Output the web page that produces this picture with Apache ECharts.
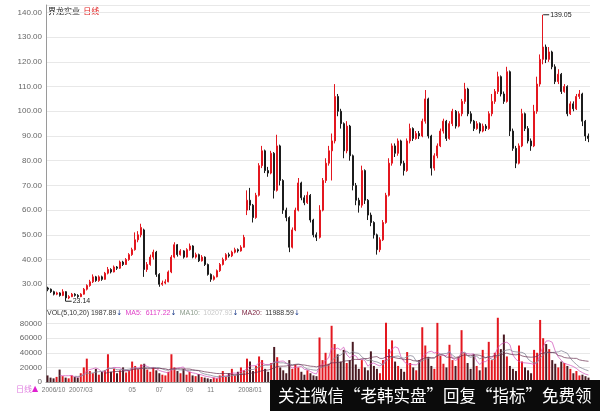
<!DOCTYPE html>
<html><head><meta charset="utf-8">
<script src="https://cdn.jsdelivr.net/npm/echarts@6/dist/echarts.min.js"></script>
<style>html,body{margin:0;padding:0;background:#fff}#c{width:600px;height:411px}</style>
</head><body><div id="c"></div>
<script>
const priceOpen = [
28.5,28,27,26,26.5,25.5,27,24.5,25,26,
25.5,25,26,28,29.5,31,33,31.5,33,32,
34.5,36,35,37,36.5,39,38,40,42,44,
48,50,52,36,38,41,43,34,30,30.5,
31,35,41,46,42,43.5,41,44,45.5,41,
42,39.5,41,38,34,32,33,35.5,38,40,
42,41.5,43,44,43.5,45,60,64,62,57,
66,78,84,76,75,83,68,86,72,60,
57,45,52,60,71,65,63,66,56,50,
49,60,72,79,84,88,106,100,95,84,
94,82,70,64,62,76,64,58,55,50,
44,48,55,66,79,86,83,88,79,76,
88,93,89,91,90,96,105,90,77,82,
86,92,96,89,95,100,94,99,104,109,
99,96,93,95,92,94,93,99,104,108,
114,107,104,116,92,85,79,86,99,93,
88,86,100,111,121,126,121,124,118,112,
115,108,110,99,103,101,106,107,96,90];
const priceClose = [
28,27,26,26.5,25.5,27,24.5,25,26,25.5,
25,26,28,29.5,31,33,31.5,33,32,34.5,
36,35,37,36.5,39,38,40,42,44,48,
50,53,36,38,41,43,34,30,30.5,31,
35,41,46,42,43.5,41,44,45.5,41,42,
39.5,41,38,34,32,33,35.5,38,40,42,
41.5,43,44,43.5,45,49,64,62,57,66,
78,84,76,75,83,68,86,72,60,57,
45,52,60,71,65,63,66,56,50,49,
60,72,79,84,88,106,100,95,84,94,
82,70,64,62,76,64,58,55,50,44,
48,55,66,79,86,83,88,79,76,88,
93,89,91,90,96,105,90,77,82,86,
92,96,89,95,100,94,99,104,109,99,
96,93,95,92,94,93,99,104,108,114,
107,104,116,92,85,79,86,99,93,88,
86,100,111,121,126,121,124,118,112,115,
108,110,99,103,101,106,107,96,90,89];
const priceLow = [
27.2,26.5,25.5,25.6,25,25.2,23.14,24,24.8,25,
24.5,24.8,25.8,27.5,29,30.5,31,31,31.4,31.8,
34,34.4,34.8,35.8,36.2,37.4,37.8,39.5,41.5,43.6,
47,49,33,35,37.5,40,33,29,29.4,30,
30.8,34.5,40.5,41.2,41.6,40.4,40.8,43.6,40.5,40.4,
39,39.2,37.4,33.5,31,31.5,32.8,35,37.6,39.5,
40.8,41,42.5,42.8,43.2,44.8,58,60,55,56.5,
65.5,77,75,73.5,74.5,64.7,67.5,70,58.5,55.5,
43,44.5,51.5,59.5,64,62,62.5,55,49,47.5,
48.5,59.5,71,78,72,87,98,93,81,83,
80,68,62,59,61,62.5,56,53.5,48.5,42,
43,47.5,54.5,65.5,78,81.5,82,78,74,75.5,
87,88,88.5,88.8,89.5,95,89,74,76,81,
85.5,91,88,88.5,94,93,93.5,98,103,98,
95,92,92.5,91,91.5,92,92.5,98,103,107,
106,103,103.5,90,84,77,78.5,85.5,92,87,
84,85.5,99,110,119,119.5,120,117,111,111,
107,107.5,98,98.5,100,100.5,105,94,88,87.5];
const priceHigh = [
29,28.3,27.4,27,26.8,28,27.2,25.6,26.5,26.4,
26,26.4,28.5,30,31.8,34,33.4,33.6,33.5,35,
37,36.5,37.6,37.4,39.6,39.5,40.6,42.6,44.8,51,
51.5,54.5,52.5,39,42,44,43.5,34.5,31.5,32,
35.6,41.8,47,46.3,44.2,43.8,44.6,46.5,45.8,42.8,
42.4,41.8,41.3,38.4,34.4,33.6,36,38.6,40.8,42.6,
42.8,43.6,44.8,44.5,45.8,50,68,69,62.5,67,
79,86,84.5,77.5,84,83.5,90.5,86.5,72.5,61,
57.5,53,61,73,71.5,66,67.5,66.5,56.5,51,
62,73,81,86,91,111,107,101,95.5,96,
94.5,82.5,71,65,78,76.5,64.5,59,55.5,50.5,
49,56,67,81,87,87,89,88.5,80,89,
95,93.5,92,92,97,108.6,105.5,90.5,83,87,
93,97,96.5,96,101,100.5,100,105,111.5,109.5,
100,96.5,96,95.5,95,94.8,100,107,109,116,
114.5,108,118,116.5,93,86,87,101,99.5,94,
89,102.6,114,123,139.05,127,126,124.5,119,117,
115.5,111,110.5,104,104,107,108.6,107.5,96.5,91];
const volume = [
9000,6000,5000,7000,17000,8000,6000,5000,9000,7000,6000,12000,20000,
32000,15000,12000,18000,10000,14000,16000,38000,
14000,18000,12000,16000,20000,13000,15000,28000,22000,18000,24000,
25000,17000,14000,20000,16000,12000,10000,9000,14000,
38000,20000,15000,12000,18000,10000,14000,9000,8000,11000,
7000,6000,5000,4000,6000,5000,9000,15000,7000,12000,18000,9000,14000,20000,16000,
32000,28000,15000,22000,35000,30000,18000,14000,26000,48000,34000,20000,16000,12000,30000,
18000,24000,20000,14000,10000,16000,12000,9000,8000,
61000,30000,40000,25000,77000,52000,38000,28000,44000,26000,30000,
55000,24000,18000,30000,20000,16000,42000,22000,18000,12000,
30000,81000,45000,57000,28000,22000,18000,14000,41000,26000,
20000,16000,30000,75000,50000,34000,22000,18000,81000,36000,
25000,20000,51000,30000,22000,35000,71000,40000,26000,18000,
38000,22000,16000,44000,20000,55000,30000,40000,88000,45000,
65000,35000,22000,18000,15000,50000,28000,20000,16000,12000,
44000,40000,85000,60000,52000,45000,30000,25000,20000,28000,
26000,22000,18000,12000,15000,9000,10000,8000,6000];
const tickIndex = [2, 11, 28, 37, 47, 54, 67];
const tickLabels = ['2006/10', '2007/03', '05', '07', '09', '11', '2008/01'];
const stockName = '界龙实业';
const periodName = '日线';

const categories = priceClose.map((_, i) => String(i));
const candles = priceClose.map((c, i) => [priceOpen[i], c, priceLow[i], priceHigh[i]]);
function movingAvg(n) {
  return volume.map((v, i) => {
    if (i < n - 1) return '-';
    let s = 0; for (let k = i - n + 1; k <= i; k++) s += volume[k];
    return Math.round(s / n);
  });
}
const UP = '#e3171f', DOWN = '#1c1c1c';
const axisFont = 'Liberation Sans';
const chart = echarts.init(document.getElementById('c'), null, {renderer: 'canvas'});
chart.setOption({
  animation: false,
  backgroundColor: '#fff',
  grid: [
    {left: 46, right: 10, top: 5, bottom: 102},
    {left: 46, right: 10, top: 309, bottom: 29}
  ],
  xAxis: [
    {type: 'category', gridIndex: 0, data: categories, boundaryGap: true,
     axisLine: {show: false}, axisTick: {show: false}, axisLabel: {show: false}, splitLine: {show: false}},
    {type: 'category', gridIndex: 1, data: categories, boundaryGap: true, offset: 2,
     axisLine: {show: true, lineStyle: {color: '#9a9a9a', width: 1}}, axisTick: {show: false}, splitLine: {show: false},
     axisLabel: {interval: (i) => tickIndex.includes(i), formatter: (v, i) => { const k = tickIndex.indexOf(i); return k >= 0 ? tickLabels[k] : ''; },
       hideOverlap: false, showMinLabel: true, color: '#777', fontSize: 6.5, fontFamily: axisFont, margin: 3}}
  ],
  yAxis: [
    {type: 'value', gridIndex: 0, min: 20, max: 143, interval: 10, scale: false,
     axisLine: {show: true, lineStyle: {color: '#9a9a9a'}}, axisTick: {show: false},
     splitLine: {lineStyle: {color: '#e8e8e8', width: 1}},
     axisLabel: {formatter: (v) => v === 20 ? '' : v.toFixed(2), color: '#666', fontSize: 8, fontFamily: axisFont, margin: 4}},
    {type: 'value', gridIndex: 1, min: 0, max: 100000, interval: 20000,
     axisLine: {show: true, lineStyle: {color: '#9a9a9a'}}, axisTick: {show: false},
     splitLine: {lineStyle: {color: '#e8e8e8', width: 1}},
     axisLabel: {formatter: (v) => v === 100000 ? '' : String(v), color: '#666', fontSize: 8, fontFamily: axisFont, margin: 4}}
  ],
  series: [
    {type: 'candlestick', name: 'K', xAxisIndex: 0, yAxisIndex: 0, data: candles, barMaxWidth: 2,
     itemStyle: {color: UP, color0: DOWN, borderColor: UP, borderColor0: DOWN, borderWidth: 1},
     markPoint: {
       symbol: 'rect', symbolSize: [6, 1], symbolOffset: [3, 0],
       itemStyle: {color: '#222'},
       label: {show: true, position: 'right', distance: 1, color: '#222', fontSize: 7, fontFamily: axisFont,
               formatter: (p) => Number(p.value).toFixed(2)},
       data: [
         {type: 'max', valueDim: 'highest'},
         {type: 'min', valueDim: 'lowest'}
       ]
     }},
    {type: 'bar', name: 'VOL', xAxisIndex: 1, yAxisIndex: 1, barWidth: 2,
     data: volume.map((v, i) => ({value: v, itemStyle: {color: priceClose[i] >= priceOpen[i] ? UP : '#4a1a22'}}))},
    {type: 'line', name: 'MA5', xAxisIndex: 1, yAxisIndex: 1, data: movingAvg(5), symbol: 'none',
     lineStyle: {color: '#d04fb8', width: 1, opacity: 0.7}},
    {type: 'line', name: 'MA10', xAxisIndex: 1, yAxisIndex: 1, data: movingAvg(10), symbol: 'none',
     lineStyle: {color: '#8a8a9a', width: 1, opacity: 0.8}},
    {type: 'line', name: 'MA20', xAxisIndex: 1, yAxisIndex: 1, data: movingAvg(20), symbol: 'none',
     lineStyle: {color: '#6a3050', width: 1, opacity: 0.7}}
  ],
  graphic: [
    {type: 'line', shape: {x1: 46, y1: 5.5, x2: 590, y2: 5.5}, style: {stroke: '#d0d0d0', lineWidth: 1}, silent: true},
    {type: 'text', x: 48, y: 5, style: {
      text: '{n|' + stockName + '} {p|' + periodName + '}',
      rich: {n: {fill: '#222', fontSize: 8, fontFamily: 'Noto Sans CJK SC'}, p: {fill: '#e02020', fontSize: 8, fontFamily: 'Noto Sans CJK SC'}}
    }},
    {type: 'text', x: 47, y: 307, style: {
      text: '{a|VOL(5,10,20) 1987.89}{r|↓} {m|MA5:  6117.22}{r|↓} {g|MA10:} {w|10207.93}{r|↓} {d|MA20:} {a|11988.59}{r|↓}',
      rich: {
        a: {fill: '#333', fontSize: 7, fontFamily: axisFont},
        r: {fill: '#1b3a8a', fontSize: 7, fontFamily: 'DejaVu Sans'},
        m: {fill: '#e040c8', fontSize: 7, fontFamily: axisFont},
        g: {fill: '#8a9a8a', fontSize: 7, fontFamily: axisFont},
        w: {fill: '#c8c8c8', fontSize: 7, fontFamily: axisFont},
        d: {fill: '#7a1f3d', fontSize: 7, fontFamily: axisFont}
      }
    }},
    {type: 'text', x: 16, y: 385, style: {
      text: '{p|' + periodName + '}{t|▲}',
      rich: {p: {fill: '#e080e0', fontSize: 8, fontFamily: 'Noto Sans CJK SC'}, t: {fill: '#e020d0', fontSize: 8, fontFamily: 'DejaVu Sans'}}
    }},
    {type: 'rect', z: 100, shape: {x: 270, y: 380, width: 330, height: 31}, style: {fill: '#0b0b0b'}},
    {type: 'text', z: 101, x: 278, y: 395.5, style: {
      text: '关注微信“老韩实盘”回复“指标”免费领', fill: '#fff',
      fontSize: 16.5, fontFamily: 'Noto Sans CJK SC', verticalAlign: 'middle'
    }}
  ]
});
</script></body></html>
